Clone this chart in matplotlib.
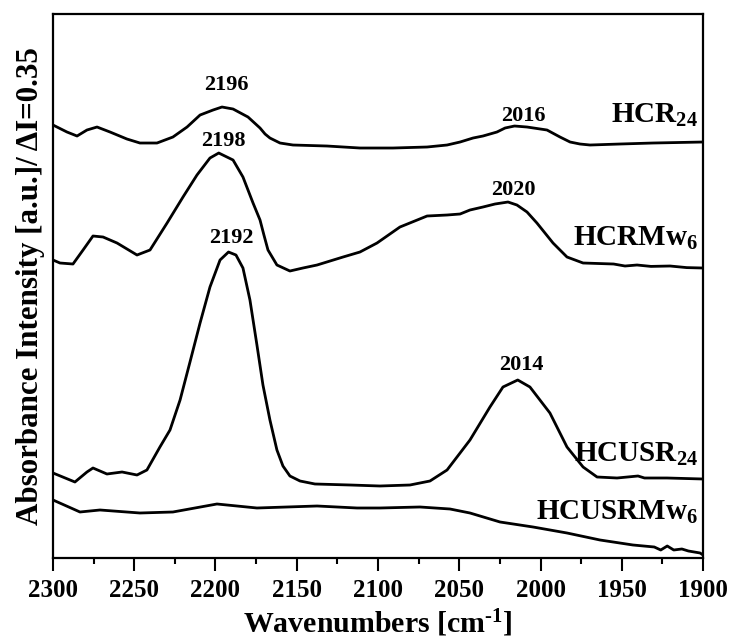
import matplotlib
matplotlib.use("Agg")
import matplotlib.pyplot as plt
from matplotlib.ticker import MultipleLocator

plt.rcParams['font.family'] = 'Liberation Serif'
plt.rcParams['font.weight'] = 'bold'
plt.rcParams['mathtext.fontset'] = 'custom'
plt.rcParams['mathtext.rm'] = 'Liberation Serif:bold'
plt.rcParams['mathtext.bf'] = 'Liberation Serif:bold'
plt.rcParams['mathtext.it'] = 'Liberation Serif:bold:italic'
plt.rcParams['mathtext.default'] = 'bf'

# stacked spectra (offset absorbance, a.u.)
wn_hcr24 = [2300, 2291.4, 2285.2, 2279.1, 2272.9, 2264.9, 2254.5, 2246.5, 2236, 2226.2,
            2217.5, 2209.5, 2201.5, 2196, 2189.2, 2180, 2172.6, 2169.5, 2166.5, 2160.3,
            2152.3, 2131.4, 2111.1, 2090.8, 2069.8, 2057.5, 2049.5, 2041.5, 2035.4, 2026.8,
            2021.8, 2016, 2008.3, 1996, 1988, 1981.8, 1975.7, 1969.5, 1951.1, 1930.8, 1900]
a_hcr24 = [2.165, 2.13, 2.11, 2.14, 2.155, 2.13, 2.095, 2.075, 2.075, 2.105,
           2.155, 2.215, 2.24, 2.255, 2.245, 2.205, 2.15, 2.12, 2.10, 2.075,
           2.065, 2.06, 2.05, 2.05, 2.055, 2.065, 2.08, 2.10, 2.11, 2.13,
           2.15, 2.16, 2.155, 2.14, 2.105, 2.08, 2.07, 2.065, 2.07, 2.075, 2.08]

wn_hcrmw6 = [2300, 2295.7, 2287.7, 2281.5, 2275.4, 2269.2, 2260.6, 2248.3, 2240.3, 2229.8,
             2220, 2211.4, 2203.4, 2198, 2189.2, 2183.1, 2176.9, 2172.6, 2170.2, 2167.7,
             2162.2, 2154.2, 2146.2, 2137.5, 2121.5, 2111.1, 2100.6, 2086.5, 2069.8, 2057.5,
             2049.5, 2043.4, 2035.4, 2028, 2020, 2014.5, 2008.3, 2002.2, 1992.3, 1983.7,
             1973.8, 1955, 1948, 1940.6, 1932, 1920.3, 1910, 1900]
a_hcrmw6 = [1.49, 1.475, 1.47, 1.54, 1.61, 1.605, 1.575, 1.515, 1.54, 1.675,
            1.805, 1.915, 2.0, 2.025, 1.99, 1.905, 1.775, 1.69, 1.615, 1.54,
            1.465, 1.435, 1.45, 1.465, 1.505, 1.53, 1.575, 1.655, 1.71, 1.715,
            1.72, 1.74, 1.755, 1.77, 1.78, 1.765, 1.73, 1.675, 1.575, 1.505,
            1.475, 1.47, 1.46, 1.465, 1.458, 1.46, 1.452, 1.45]

wn_hcusr24 = [2300, 2286.5, 2279.1, 2275.4, 2266.8, 2257.5, 2248.3, 2242.2, 2234.2, 2228,
              2221.8, 2215.7, 2209.5, 2203.4, 2197.2, 2192, 2187.4, 2183.1, 2178.8, 2174.5,
              2170.8, 2166.5, 2162.2, 2158.5, 2154.2, 2148, 2138.8, 2117.2, 2098.8, 2080.3,
              2068, 2057.5, 2049.5, 2043.4, 2031.1, 2023.1, 2014, 2006.5, 1994.2, 1983.7,
              1973.8, 1965.2, 1952.9, 1940, 1936, 1922.2, 1900]
a_hcusr24 = [0.425, 0.38, 0.43, 0.45, 0.42, 0.43, 0.415, 0.44, 0.555, 0.64,
             0.79, 0.98, 1.175, 1.355, 1.49, 1.53, 1.515, 1.45, 1.29, 1.065,
             0.865, 0.69, 0.54, 0.46, 0.41, 0.385, 0.37, 0.365, 0.36, 0.365,
             0.385, 0.44, 0.525, 0.59, 0.755, 0.855, 0.89, 0.855, 0.725, 0.555,
             0.455, 0.405, 0.40, 0.41, 0.40, 0.40, 0.395]

wn_hcusrmw6 = [2300, 2283.4, 2271.1, 2246.5, 2226.2, 2199.1, 2174.5, 2137.5, 2112.9, 2098.8,
               2074.2, 2055.7, 2043.4, 2024.9, 2004.6, 1983.7, 1963.4, 1943.1, 1930, 1926,
               1922, 1918, 1913, 1909, 1901.8, 1900]
a_hcusrmw6 = [0.29, 0.23, 0.24, 0.225, 0.23, 0.27, 0.25, 0.26, 0.25, 0.25,
              0.255, 0.245, 0.225, 0.18, 0.155, 0.125, 0.09, 0.065, 0.055, 0.04,
              0.06, 0.04, 0.045, 0.035, 0.025, 0.015]

spectra = [
    (wn_hcr24, a_hcr24, r'HCR$_{24}$', 2.175),
    (wn_hcrmw6, a_hcrmw6, r'HCRMw$_{6}$', 1.56),
    (wn_hcusr24, a_hcusr24, r'HCUSR$_{24}$', 0.48),
    (wn_hcusrmw6, a_hcusrmw6, r'HCUSRMw$_{6}$', 0.19),
]

# peak positions and where their labels sit
peak_labels = ['2196', '2198', '2192', '2016', '2020', '2014']
peak_x = [2193.5, 2195, 2190, 2010.5, 2017, 2011.7]
peak_y = [2.34, 2.06, 1.575, 2.185, 1.815, 0.94]

fig = plt.figure(figsize=(7.31, 6.43), dpi=100)
ax = fig.add_axes([0.0725, 0.1322, 0.8892, 0.846])

for wn, a, name, ylab in spectra:
    ax.plot(wn, a, color='black', lw=2.0, solid_joinstyle='round')
    ax.text(1903, ylab, name, ha='right', va='baseline', fontsize=21, fontweight='bold')

for lab, x, y in zip(peak_labels, peak_x, peak_y):
    ax.text(x, y, lab, ha='center', va='baseline', fontsize=16, fontweight='bold')

ax.set_xlim(2300, 1900)
ax.set_ylim(0, 2.72)
ax.xaxis.set_major_locator(MultipleLocator(50))
ax.xaxis.set_minor_locator(MultipleLocator(25))
ax.set_yticks([])
ax.tick_params(axis='x', which='major', direction='out', length=9, width=1.5, labelsize=18, pad=6)
ax.tick_params(axis='x', which='minor', direction='out', length=4.5, width=1.5)
for s in ax.spines.values():
    s.set_linewidth(1.6)

ax.set_xlabel(r'Wavenumbers [cm$^{\text{-}1}$]', fontsize=21.5, fontweight='bold', labelpad=4)
ax.set_ylabel('Absorbance Intensity [a.u.]/ ΔI=0.35', fontsize=22.3, fontweight='bold', labelpad=6)

fig.savefig('out.png', dpi=100)
